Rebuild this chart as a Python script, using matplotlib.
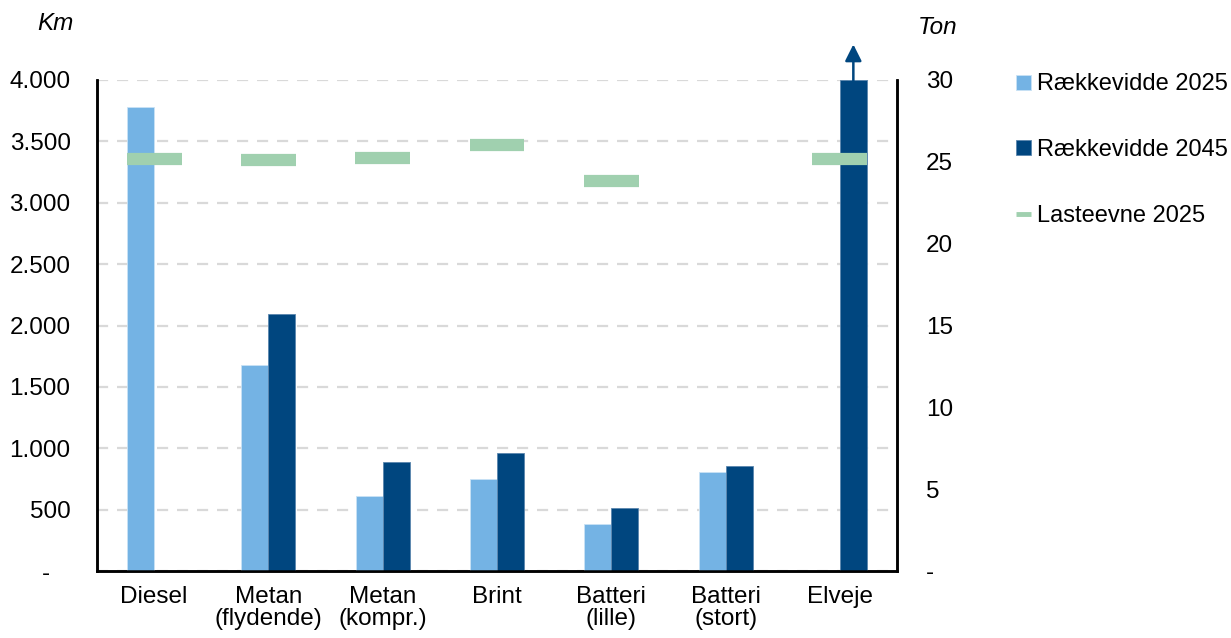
import matplotlib
matplotlib.use("Agg")
import matplotlib.pyplot as plt
import numpy as np
from matplotlib.ticker import FuncFormatter, MultipleLocator
from matplotlib.lines import Line2D

plt.rcParams['font.family'] = ['Liberation Sans', 'DejaVu Sans']

categories = ["Diesel", "Metan\n(flydende)", "Metan\n(kompr.)", "Brint",
              "Batteri\n(lille)", "Batteri\n(stort)", "Elveje"]
range_2025 = [3780, 1680, 615, 750, 380, 805, np.nan]
range_2045 = [np.nan, 2095, 890, 960, 510, 855, 4000]
payload_2025 = [25.2, 25.1, 25.25, 26.0, 23.8, np.nan, 25.15]

c_light = "#74B3E4"
c_dark = "#00467F"
c_green = "#A0D0AF"
c_grid = "#D9D9D9"
fs = 17.5
fs_leg = 17.0

fig = plt.figure(figsize=(12.31, 6.38), dpi=100)
ax = fig.add_axes([97/1231, 1-571/638, 800/1231, 491/638])
ax2 = ax.twinx()

x = np.arange(len(categories))
w = 0.236
ax.bar(x - w/2, range_2025, w, color=c_light, edgecolor="#C9E2F5", linewidth=0.6,
       label="Rækkevidde 2025", zorder=3)
ax.bar(x + w/2, range_2045, w, color=c_dark, edgecolor="#5B86AE", linewidth=0.6,
       label="Rækkevidde 2045", zorder=3)

ax.set_xlim(-0.5, len(categories) - 0.5)
ax.set_ylim(0, 4000)
ax2.set_ylim(0, 30)
ax.yaxis.set_major_locator(MultipleLocator(500))
ax2.yaxis.set_major_locator(MultipleLocator(5))

def fmt_km(v, pos):
    if abs(v) < 1e-9:
        return "-   "
    return f"{int(round(v)):,}".replace(",", ".")

def fmt_ton(v, pos):
    if abs(v) < 1e-9:
        return "-"
    return f"{int(round(v))}"

ax.yaxis.set_major_formatter(FuncFormatter(fmt_km))
ax2.yaxis.set_major_formatter(FuncFormatter(fmt_ton))

ax.grid(axis='y', color=c_grid, linestyle=(0, (5, 4)), linewidth=1.6, zorder=0)
ax.set_axisbelow(True)

ax.set_xticks(x)
ax.set_xticklabels(categories, fontsize=fs, linespacing=1.0)
ax.tick_params(axis='x', length=0, pad=11)
ax.tick_params(axis='y', length=0, pad=19, labelsize=fs)
ax2.tick_params(axis='y', length=0, pad=21, labelsize=fs)

for a in (ax, ax2):
    a.spines['top'].set_visible(False)
    for s in ('left', 'right', 'bottom'):
        a.spines[s].set_linewidth(1.8)
        a.spines[s].set_color("black")

# payload markers on right axis
pw = 0.24
ax2.hlines(payload_2025, x - pw, x + pw, colors=c_green, linewidth=8.8, zorder=4)

# arrow on Elveje (value exceeds axis)
ax.annotate("", xy=(x[6] + w/2, 4290), xytext=(x[6] + w/2, 3900),
            arrowprops=dict(arrowstyle="-|>,head_length=1.0,head_width=0.5",
                            color=c_dark, lw=1.8, shrinkA=0, shrinkB=0),
            annotation_clip=False, zorder=5)

fig.text(55/1231, 1-23/638, "Km", fontsize=fs, style='italic', ha='center', va='center')
fig.text(938/1231, 1-27/638, "Ton", fontsize=fs, style='italic', ha='center', va='center')

h1, l1 = ax.get_legend_handles_labels()
h_pay = Line2D([0], [0], color=c_green, lw=3.5, solid_capstyle='butt')
fig.legend(h1 + [h_pay], l1 + ["Lasteevne 2025"], loc='upper left',
           bbox_to_anchor=(1007/1231, 1-64/638),
           frameon=False, fontsize=fs_leg, labelspacing=1.85, handlelength=0.6,
           handleheight=0.6, handletextpad=0.25, borderaxespad=0)

fig.savefig("out.png", dpi=100)
